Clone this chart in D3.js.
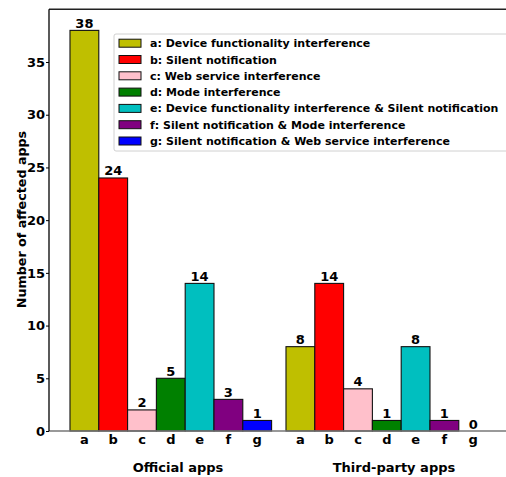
<!DOCTYPE html>
<html><head><meta charset="utf-8">
<script src="https://cdn.jsdelivr.net/npm/d3@7"></script>
<style>body{margin:0;background:#fff}svg{display:block}text{font-family:"DejaVu Sans",sans-serif;font-weight:bold}</style>
</head><body><svg id="c" width="506" height="477"></svg>
<script>
const categories = ["a","b","c","d","e","f","g"];
const groups = ["Official apps","Third-party apps"];
const official = [38,24,2,5,14,3,1];
const thirdParty = [8,14,4,1,8,1,0];
const legendLabels = [
 "a: Device functionality interference",
 "b: Silent notification",
 "c: Web service interference",
 "d: Mode interference",
 "e: Device functionality interference & Silent notification",
 "f: Silent notification & Mode interference",
 "g: Silent notification & Web service interference"];
const colors = ["#bfbf00","#ff0000","#ffc0cb","#008000","#00bfbf","#800080","#0000ff"];
const yTicks = [0,5,10,15,20,25,30,35];
const groupOffsets = [0, 7.5];
const seriesValues = [official, thirdParty];

const svg = d3.select("#c");
const L=49, R=507, T=9.3, B=431;
const x = d3.scaleLinear().domain([-1.229, 14.674]).range([L,R]);
const y = d3.scaleLinear().domain([0,40]).range([B,T]);
const bw = x(1)-x(0);

// bars
seriesValues.forEach((vals,gi)=>{
  const g = svg.append("g");
  g.selectAll("rect").data(vals).join("rect")
    .attr("x",(d,i)=>x(groupOffsets[gi]+i-0.5))
    .attr("y",d=>y(d))
    .attr("width",bw)
    .attr("height",d=>y(0)-y(d))
    .attr("fill",(d,i)=>colors[i])
    .attr("stroke","#111").attr("stroke-width",1.1);
  g.selectAll("text.v").data(vals).join("text").attr("class","v")
    .attr("x",(d,i)=>x(groupOffsets[gi]+i))
    .attr("y",d=>y(d)-2.5)
    .attr("text-anchor","middle").attr("font-size",13).attr("fill","#000")
    .text(d=>d);
  g.selectAll("text.c").data(categories).join("text").attr("class","c")
    .attr("x",(d,i)=>x(groupOffsets[gi]+i))
    .attr("y",B+13)
    .attr("text-anchor","middle").attr("font-size",13).attr("fill","#000")
    .text(d=>d);
  svg.append("text").attr("x",x(groupOffsets[gi]+3.25)).attr("y",471.5)
    .attr("text-anchor","middle").attr("font-size",13).text(groups[gi]);
});

// spines
svg.append("line").attr("x1",L).attr("x2",R).attr("y1",B).attr("y2",B).attr("stroke","#777").attr("stroke-width",1.5);
svg.append("line").attr("x1",L).attr("x2",R).attr("y1",T).attr("y2",T).attr("stroke","#222").attr("stroke-width",1.5);
// y axis
const yAxis = d3.axisLeft(y).tickValues(yTicks).tickSize(3).tickPadding(1);
const ya = svg.append("g").attr("transform",`translate(${L},0)`).call(yAxis);
ya.select(".domain").attr("stroke","#000").attr("stroke-width",1.3).attr("d",`M0,${B}V${T}`);
ya.selectAll("text").attr("font-size",13).attr("fill","#000").attr("font-family","DejaVu Sans").attr("font-weight","bold");
ya.selectAll("line").attr("stroke","#000");

svg.append("text").attr("transform",`translate(26,219.5) rotate(-90)`)
  .attr("text-anchor","middle").attr("font-size",12.7).text("Number of affected apps");

// legend
const lg = svg.append("g");
lg.append("rect").attr("x",114).attr("y",34).attr("width",400).attr("height",117).attr("rx",2)
  .attr("fill","#fff").attr("fill-opacity",0.9).attr("stroke","#d0d0d0").attr("stroke-width",1);
legendLabels.forEach((t,i)=>{
  const cy = 43.2 + i*16.3;
  lg.append("rect").attr("x",119).attr("y",cy-4).attr("width",22).attr("height",8)
    .attr("fill",colors[i]).attr("stroke","#111").attr("stroke-width",1);
  lg.append("text").attr("x",150).attr("y",cy+4).attr("font-size",11).text(t);
});
</script></body></html>
